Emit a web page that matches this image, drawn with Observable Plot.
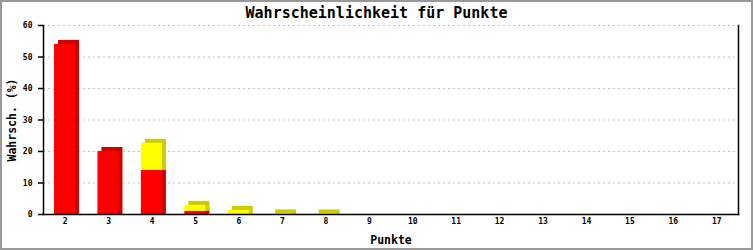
<!DOCTYPE html>
<html><head><meta charset="utf-8">
<script src="https://cdn.jsdelivr.net/npm/d3@7"></script>
<script src="https://cdn.jsdelivr.net/npm/@observablehq/plot@0.6"></script>
<style>
body{margin:0;background:#fff}
#wrap{position:relative;width:753px;height:250px;overflow:hidden;background:#fff}
#border{position:absolute;left:0;top:0;width:753px;height:250px;box-sizing:border-box;border:2px solid #999;pointer-events:none}
#title{position:absolute;top:3px;left:0;width:753px;text-align:center;font:bold 15px "DejaVu Sans Mono",monospace;color:#000;line-height:20px}
#chart{position:absolute;left:0;top:0}
</style></head><body>
<div id="wrap"><div id="chart"></div><div id="title"></div><div id="border"></div></div>
<script>
const titel = "Wahrscheinlichkeit für Punkte";
const xLabel = "Punkte";
const yLabel = "Wahrsch. (%)";
const punkte = [2, 3, 4, 5, 6, 7, 8, 9, 10, 11, 12, 13, 14, 15, 16, 17];
const rot  = [54, 20, 14, 1, 0, 0, 0, 0, 0, 0, 0, 0, 0, 0, 0, 0];
const gelb = [0, 0, 8.6, 1.9, 1.3, 0.2, 0.2, 0, 0, 0, 0, 0, 0, 0, 0, 0];
const yTicks = [0, 10, 20, 30, 40, 50, 60];
const frontFarbe = {rot: "#ff0000", gelb: "#ffff00"};
const seitenFarbe = {rot: "#cc0000", gelb: "#cccc00"};

document.getElementById("title").textContent = titel;

const data = [];
punkte.forEach((p, i) => {
  data.push({punkte: p, serie: "rot", wert: rot[i]});
  data.push({punkte: p, serie: "gelb", wert: gelb[i]});
});
const sichtbar = data.filter(d => d.wert > 0);

const font = "DejaVu Sans Mono";
const chart = Plot.plot({
  width: 753, height: 250,
  marginLeft: 43, marginRight: 15, marginTop: 25, marginBottom: 36,
  style: {fontFamily: font, fontSize: "8px", fontWeight: "bold", background: "transparent", color: "#000"},
  x: {type: "band", domain: punkte, padding: 0, round: false},
  y: {domain: [0, 60]},
  color: {type: "identity"},
  marks: [
    Plot.gridY(yTicks, {stroke: "#c0c0c0", strokeOpacity: 1, strokeDasharray: "2,3"}),
    Plot.barY(sichtbar, {x: "punkte", y: "wert", fill: d => seitenFarbe[d.serie], dx: 4, dy: -4, insetLeft: 11, insetRight: 11.4, insetBottom: -4}),
    Plot.barY(sichtbar, {x: "punkte", y: "wert", fill: d => frontFarbe[d.serie], insetLeft: 11, insetRight: 11.4}),
    Plot.frame({anchor: "left", stroke: "#000", strokeWidth: 1.5}),
    Plot.frame({anchor: "right", stroke: "#000", strokeWidth: 1.5}),
    Plot.frame({anchor: "bottom", stroke: "#000", strokeWidth: 1.5}),
    Plot.axisY(yTicks, {tickSize: 5, tickPadding: 6, label: null, stroke: "#000", strokeWidth: 1.5}),
    Plot.axisX({tickSize: 0, tickPadding: 4, label: null}),
    Plot.text([yLabel], {frameAnchor: "left", rotate: -90, dx: -31, textAnchor: "middle", lineAnchor: "middle", fontSize: 11.5, fontWeight: "bold", fill: "#000"}),
    Plot.text([xLabel], {frameAnchor: "bottom", dy: 26, textAnchor: "middle", lineAnchor: "middle", fontSize: 11.5, fontWeight: "bold", fill: "#000"})
  ]
});
document.getElementById("chart").appendChild(chart);
</script>
</body></html>
